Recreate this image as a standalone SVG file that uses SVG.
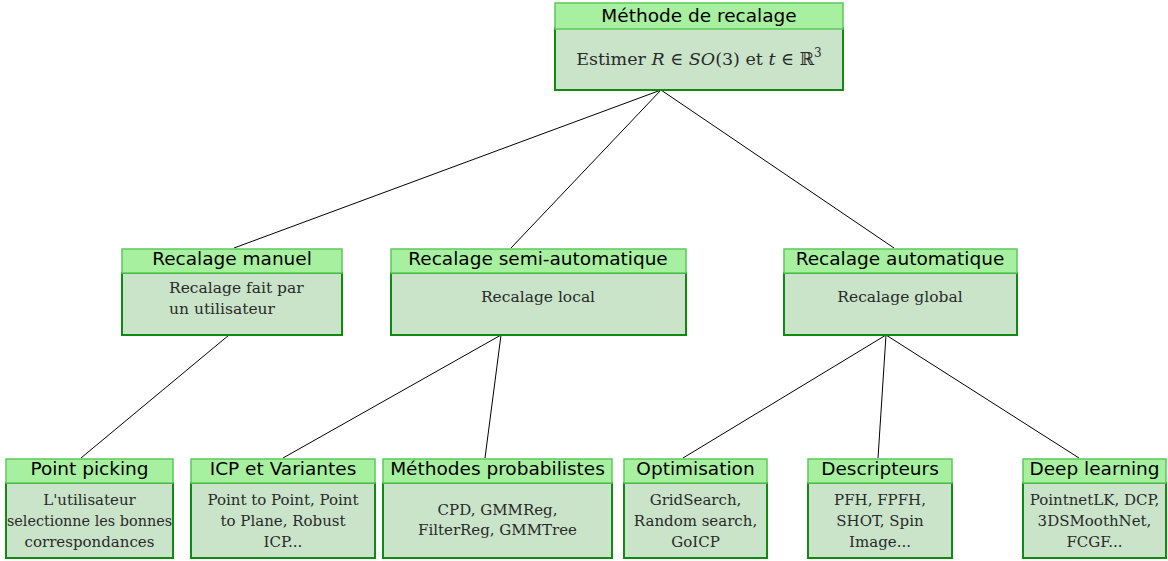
<svg xmlns="http://www.w3.org/2000/svg" width="1168" height="561" viewBox="0 0 1168 561">
<style>
.body{fill:#c9e4c9;stroke:#108a10;stroke-width:2}
.head{fill:#a6f0a0;stroke:#5cc95c;stroke-width:1.5}
.ht{font-family:"DejaVu Sans",sans-serif;font-size:18.5px;fill:#000;text-anchor:middle}
.bt{font-family:"DejaVu Serif",serif;font-size:15px;fill:#2a2a2a;text-anchor:middle}
.btl{font-family:"DejaVu Serif",serif;font-size:15.5px;fill:#2a2a2a}
.conn line{stroke:#000;stroke-width:1}
</style>
<rect width="1168" height="561" fill="#fff"/>
<g id="connectors" class="conn">
<line x1="661" y1="90" x2="234" y2="248"/>
<line x1="661" y1="90" x2="511" y2="248"/>
<line x1="661" y1="90" x2="894" y2="248"/>
<line x1="229" y1="335" x2="81" y2="458"/>
<line x1="501" y1="335" x2="283" y2="458"/>
<line x1="501" y1="335" x2="485" y2="458"/>
<line x1="886" y1="335" x2="683" y2="458"/>
<line x1="886" y1="335" x2="878" y2="458"/>
<line x1="886" y1="335" x2="1079" y2="458"/>
</g>
<g id="root">
<rect class="body" x="555" y="28" width="288" height="62"/>
<rect class="head" x="555" y="3" width="288" height="26"/>
<text class="ht" x="699" y="22">Méthode de recalage</text>
<text class="bt" x="699" y="65" style="font-size:17.5px">Estimer <tspan font-style="italic">R</tspan> ∈ <tspan font-style="italic">SO</tspan>(3) et <tspan font-style="italic">t</tspan> ∈ ℝ<tspan dy="-8" font-size="12">3</tspan></text>
</g>
<g id="manuel">
<rect class="body" x="122" y="273" width="220" height="62"/>
<rect class="head" x="122" y="249" width="220" height="24"/>
<text class="ht" x="232" y="265">Recalage manuel</text>
<text class="btl" x="169" y="293">Recalage fait par</text>
<text class="btl" x="169" y="314">un utilisateur</text>
</g>
<g id="semi">
<rect class="body" x="391" y="273" width="295" height="62"/>
<rect class="head" x="391" y="249" width="295" height="24"/>
<text class="ht" x="538" y="265">Recalage semi-automatique</text>
<text class="bt" x="538" y="302" style="font-size:15.5px">Recalage local</text>
</g>
<g id="auto">
<rect class="body" x="784" y="273" width="233" height="62"/>
<rect class="head" x="784" y="249" width="233" height="24"/>
<text class="ht" x="900" y="265">Recalage automatique</text>
<text class="bt" x="900" y="302" style="font-size:15.5px">Recalage global</text>
</g>
<g id="picking">
<rect class="body" x="6" y="483" width="167" height="75"/>
<rect class="head" x="6" y="459" width="167" height="24"/>
<text class="ht" x="89.5" y="475">Point picking</text>
<text class="bt" x="89.5" y="505">L'utilisateur</text>
<text class="bt" x="89.5" y="526" style="font-size:14.4px">selectionne les bonnes</text>
<text class="bt" x="89.5" y="547">correspondances</text>
</g>
<g id="icp">
<rect class="body" x="191" y="483" width="184" height="75"/>
<rect class="head" x="191" y="459" width="184" height="24"/>
<text class="ht" x="283" y="475">ICP et Variantes</text>
<text class="bt" x="283" y="505">Point to Point, Point</text>
<text class="bt" x="283" y="526">to Plane, Robust</text>
<text class="bt" x="283" y="547">ICP...</text>
</g>
<g id="proba">
<rect class="body" x="383" y="483" width="229" height="75"/>
<rect class="head" x="383" y="459" width="229" height="24"/>
<text class="ht" x="497.5" y="475">Méthodes probabilistes</text>
<text class="bt" x="497.5" y="515">CPD, GMMReg,</text>
<text class="bt" x="497.5" y="535">FilterReg, GMMTree</text>
</g>
<g id="optim">
<rect class="body" x="624" y="483" width="143" height="75"/>
<rect class="head" x="624" y="459" width="143" height="24"/>
<text class="ht" x="695.5" y="475">Optimisation</text>
<text class="bt" x="695.5" y="505">GridSearch,</text>
<text class="bt" x="695.5" y="526">Random search,</text>
<text class="bt" x="695.5" y="547">GoICP</text>
</g>
<g id="desc">
<rect class="body" x="808" y="483" width="144" height="75"/>
<rect class="head" x="808" y="459" width="144" height="24"/>
<text class="ht" x="880" y="475">Descripteurs</text>
<text class="bt" x="880" y="505">PFH, FPFH,</text>
<text class="bt" x="880" y="526">SHOT, Spin</text>
<text class="bt" x="880" y="547">Image...</text>
</g>
<g id="deep">
<rect class="body" x="1023" y="483" width="143" height="75"/>
<rect class="head" x="1023" y="459" width="143" height="24"/>
<text class="ht" x="1094.5" y="475">Deep learning</text>
<text class="bt" x="1094.5" y="505">PointnetLK, DCP,</text>
<text class="bt" x="1094.5" y="526">3DSMoothNet,</text>
<text class="bt" x="1094.5" y="547">FCGF...</text>
</g>
</svg>
